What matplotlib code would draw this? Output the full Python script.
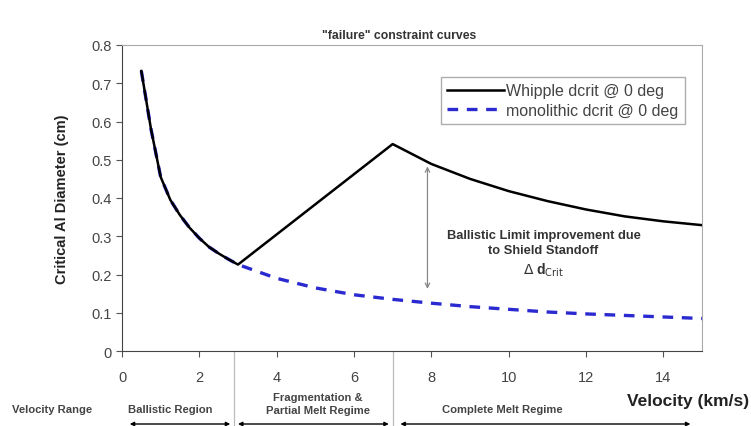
import matplotlib
matplotlib.use("Agg")
import matplotlib.pyplot as plt
from matplotlib.transforms import blended_transform_factory

plt.rcParams['font.family'] = ['Liberation Sans', 'DejaVu Sans']

# data
ballistic_v = [0.5, 0.75, 1.0, 1.25, 1.5, 1.75, 2.0, 2.25, 2.5, 2.75, 3.0]
ballistic_d = [0.732, 0.58, 0.455, 0.395, 0.355, 0.322, 0.295, 0.272, 0.255, 0.240, 0.226]
whipple_tail_v = [7.0, 8.0, 9.0, 10.0, 11.0, 12.0, 13.0, 14.0, 15.0]
whipple_tail_d = [0.541, 0.489, 0.450, 0.418, 0.392, 0.370, 0.352, 0.339, 0.329]
mono_tail_v = [4.0, 5.0, 6.0, 7.0, 8.0, 9.0, 10.0, 11.0, 12.0, 13.0, 14.0, 15.0]
mono_tail_d = [0.190, 0.165, 0.147, 0.135, 0.125, 0.116, 0.109, 0.102, 0.097, 0.093, 0.089, 0.085]

whipple_v = ballistic_v + whipple_tail_v
whipple_d = ballistic_d + whipple_tail_d
mono_v = ballistic_v + mono_tail_v
mono_d = ballistic_d + mono_tail_d

x_ticks = [0, 2, 4, 6, 8, 10, 12, 14]
y_ticks = [0, 0.1, 0.2, 0.3, 0.4, 0.5, 0.6, 0.7, 0.8]
y_tick_labels = ["0", "0.1", "0.2", "0.3", "0.4", "0.5", "0.6", "0.7", "0.8"]

regions = ["Ballistic Region", "Fragmentation &\nPartial Melt Regime", "Complete Melt Regime"]
region_centers = [1.24, 5.07, 9.83]
region_spans = [(0.2, 2.8), (3.0, 6.9), (7.2, 14.7)]
dividers = [2.9, 7.0]

W, H = 751, 427
fig = plt.figure(figsize=(W / 100, H / 100), dpi=100)
ax = fig.add_axes([122 / W, 1 - 352 / H, (702 - 122) / W, (352 - 46) / H])

ax.plot(mono_v, mono_d, color="#2a2ad0", lw=2.4, ls=(0, (3.2, 2.6)), label="monolithic dcrit @ 0 deg", zorder=2)
ax.plot(whipple_v, whipple_d, color="black", lw=1.8, label="Whipple dcrit @ 0 deg", zorder=3)

ax.set_xlim(0, 15)
ax.set_ylim(0, 0.8)
ax.set_xticks(x_ticks)
ax.set_yticks(y_ticks)
ax.set_yticklabels(y_tick_labels)
ax.tick_params(axis="both", labelsize=10.5, labelcolor="#444444", direction="out", length=4, color="#555555")
ax.tick_params(axis="x", pad=10)
for s in ["top", "right"]:
    ax.spines[s].set_color("#aaaaaa")
for s in ["left", "bottom"]:
    ax.spines[s].set_color("#444444")

ax.set_ylabel("Critical Al Diameter (cm)", fontsize=10.5, fontweight="bold", color="#222222", labelpad=16)

handles, labels = ax.get_legend_handles_labels()
leg = ax.legend(handles[::-1], labels[::-1], loc="upper right", bbox_to_anchor=(0.984, 0.922),
                fontsize=11.5, frameon=True, fancybox=False, edgecolor="#999999",
                handlelength=3.6, handletextpad=0.1, borderpad=0.4, labelspacing=0.3)
leg.get_frame().set_linewidth(1.0)
for t in leg.get_texts():
    t.set_color("#444444")

# title
fig.text(399 / W, 1 - 36 / H, '"failure" constraint curves', fontsize=8.8, fontweight="bold",
         ha="center", va="center", color="#333333")

# double arrow annotation
ax.annotate("", xy=(7.9, 0.155), xytext=(7.9, 0.49),
            arrowprops=dict(arrowstyle="<->", color="#888888", lw=0.9, mutation_scale=8))
ax.text(10.9, 0.303, "Ballistic Limit improvement due",
        fontsize=9.3, fontweight="bold", ha="center", va="center", color="#333333")
ax.text(10.9, 0.264, "to Shield Standoff",
        fontsize=9.3, fontweight="bold", ha="center", va="center", color="#333333")
ax.text(10.9, 0.214, r"$\Delta$ d$_{\rm Crit}$", fontsize=10, fontweight="bold",
        ha="center", va="center", color="#333333")

# region annotations below axis
tr = blended_transform_factory(ax.transData, fig.transFigure)
for d in dividers:
    ax.plot([d, d], [1 - 352 / H, 0.0], transform=tr, color="#bbbbbb", lw=0.9, clip_on=False)

fig.text(12 / W, 1 - 410 / H, "Velocity Range", fontsize=8.1, fontweight="bold", color="#444444", va="center")
ax.text(region_centers[0], 1 - 410 / H, regions[0], transform=tr, fontsize=8.1, fontweight="bold",
        color="#444444", ha="center", va="center")
ax.text(region_centers[1], 1 - 404.5 / H, regions[1], transform=tr, fontsize=8.1, fontweight="bold",
        color="#444444", ha="center", va="center", linespacing=1.3)
ax.text(region_centers[2], 1 - 410 / H, regions[2], transform=tr, fontsize=8.1, fontweight="bold",
        color="#444444", ha="center", va="center")
for a, b in region_spans:
    ax.annotate("", xy=(a, 1 - 425 / H), xytext=(b, 1 - 425 / H), xycoords=tr, textcoords=tr,
                arrowprops=dict(arrowstyle="<|-|>", color="black", lw=1.0, mutation_scale=6,
                                shrinkA=0, shrinkB=0))

fig.text(749 / W, 1 - 402 / H, "Velocity (km/s)", fontsize=12.5, fontweight="bold", color="#222222",
         ha="right", va="center")

fig.savefig("out.png", dpi=100)
